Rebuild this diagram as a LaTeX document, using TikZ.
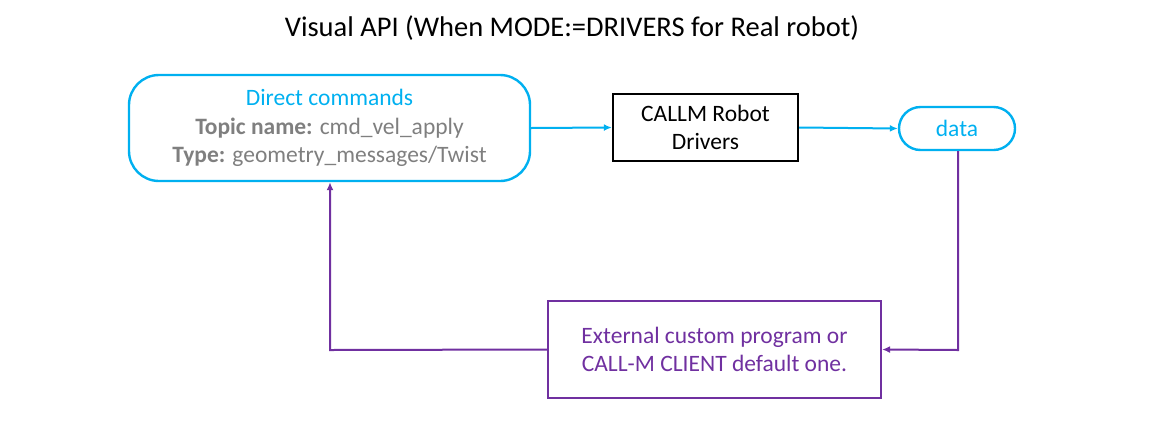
\documentclass[tikz,border=0pt]{standalone}
\usepackage{fontspec}
\setmainfont{Carlito}
\usetikzlibrary{arrows.meta}
\definecolor{callmcyan}{HTML}{00B0F0}
\definecolor{callmpurple}{HTML}{7030A0}
\definecolor{callmgray}{HTML}{7F7F7F}
\tikzset{
	cyanbox/.style={draw=callmcyan,line width=2.4pt,minimum width=#1},
	cyanline/.style={draw=callmcyan,line width=2pt,-{Latex[length=8pt,width=7pt]}},
	purpleline/.style={draw=callmpurple,line width=2pt,-{Latex[length=8pt,width=7pt]}},
	boxfont/.style={font=\fontsize{23.5}{28.5}\selectfont,align=center,inner sep=0pt}
}
\begin{document}
\begin{tikzpicture}[x=1pt,y=-1pt]
			\useasboundingbox (0,0) rectangle (1153,424);
			%Title
			\node (title) at (572,28) {\fontsize{28.5}{32}\selectfont Visual API (When MODE:=DRIVERS for Real robot)};
			%Direct commands box
			\node [cyanbox=401pt,minimum height=106pt,rounded corners=30pt,boxfont] (direct) at (329.5,128)
				{\textcolor{callmcyan}{Direct commands}\\
				\textcolor{callmgray}{\textbf{Topic name:} cmd\_vel\_apply}\\
				\textcolor{callmgray}{\textbf{Type:} geometry\_messages/Twist}};
			%Robot drivers box
			\node [draw=black,line width=2.4pt,minimum width=185pt,minimum height=67pt,boxfont] (drivers) at (705.5,127.5)
				{CALLM Robot\\Drivers};
			%Data pill
			\node [cyanbox=116pt,minimum height=43pt,rounded corners=21.5pt,boxfont,text=callmcyan] (data) at (957,128.5) {data};
			%External program box
			\node [draw=callmpurple,line width=2.2pt,minimum width=333pt,minimum height=97pt,boxfont,text=callmpurple] (external) at (714.5,349.5)
				{External custom program or\\CALL-M CLIENT default one.};
			%Corners of the feedback loop
			\coordinate (loopRight) at (958,350);
			\coordinate (loopLeft) at (330,350);
			%Arrows
			\draw [cyanline] (direct.east) -- (drivers.west);
			\draw [cyanline] (drivers.east) -- (data.west);
			\draw [purpleline] (data.south -| loopRight) -- (loopRight) -- (external.east);
			\draw [purpleline] (external.west) -- (loopLeft) -- (loopLeft |- direct.south);
\end{tikzpicture}
\end{document}
